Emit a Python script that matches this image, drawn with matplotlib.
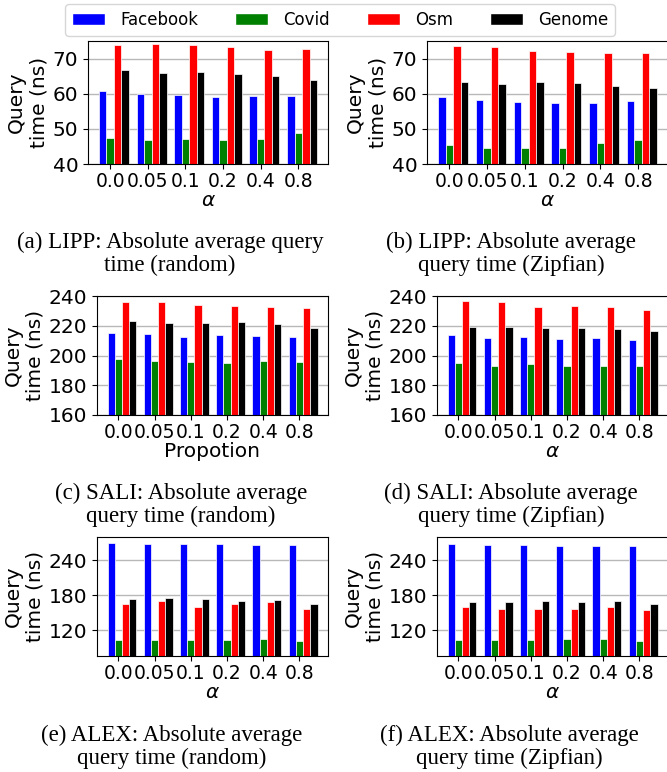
import matplotlib
matplotlib.use("Agg")
import matplotlib.pyplot as plt
import numpy as np
from matplotlib.patches import Patch

# ---------------- data ----------------
alphas = ["0.0", "0.05", "0.1", "0.2", "0.4", "0.8"]
series_names = ["Facebook", "Covid", "Osm", "Genome"]
series_colors = ["blue", "green", "red", "black"]

# (a) LIPP random
lipp_random_facebook = [60.8, 60.0, 59.7, 59.2, 59.4, 59.3]
lipp_random_covid = [47.5, 46.8, 47.0, 46.8, 47.1, 48.7]
lipp_random_osm = [73.9, 74.2, 73.9, 73.2, 72.5, 72.6]
lipp_random_genome = [66.7, 65.9, 66.2, 65.6, 64.9, 63.9]

# (b) LIPP zipfian
lipp_zipf_facebook = [59.2, 58.2, 57.6, 57.3, 57.5, 57.9]
lipp_zipf_covid = [45.3, 44.6, 44.5, 44.5, 45.9, 46.9]
lipp_zipf_osm = [73.5, 73.2, 72.1, 71.8, 71.5, 71.6]
lipp_zipf_genome = [63.4, 62.7, 63.4, 63.1, 62.3, 61.5]

# (c) SALI random
sali_random_facebook = [215.3, 214.5, 212.7, 213.8, 213.1, 212.2]
sali_random_covid = [197.6, 196.3, 195.6, 195.2, 196.3, 195.6]
sali_random_osm = [236.2, 236.2, 233.9, 233.3, 232.6, 231.7]
sali_random_genome = [223.2, 221.8, 222.1, 222.7, 221.4, 218.5]

# (d) SALI zipfian
sali_zipf_facebook = [213.8, 212.0, 212.2, 211.1, 211.8, 210.2]
sali_zipf_covid = [194.7, 192.9, 194.3, 193.2, 192.9, 192.9]
sali_zipf_osm = [236.6, 235.7, 232.4, 233.3, 232.4, 230.6]
sali_zipf_genome = [219.4, 218.9, 218.5, 218.5, 217.6, 216.2]

# (e) ALEX random
alex_random_facebook = [269.9, 268.7, 268.2, 268.2, 267.0, 267.0]
alex_random_covid = [103.4, 103.4, 103.4, 102.9, 105.7, 102.3]
alex_random_osm = [164.5, 169.7, 159.3, 165.6, 168.0, 157.0]
alex_random_genome = [173.1, 175.4, 174.3, 169.7, 172.5, 165.6]

# (f) ALEX zipfian
alex_zipf_facebook = [268.7, 266.4, 265.8, 265.2, 265.2, 264.6]
alex_zipf_covid = [103.4, 103.4, 103.4, 105.1, 105.1, 102.3]
alex_zipf_osm = [160.5, 157.0, 155.9, 157.0, 159.9, 155.3]
alex_zipf_genome = [168.5, 169.1, 170.2, 168.5, 170.2, 164.5]

lipp_ticks = [40, 50, 60, 70]
sali_ticks = [160, 180, 200, 220, 240]
alex_ticks = [120, 180, 240]

captions = [
    "(a) LIPP: Absolute average query\ntime (random)",
    "(b) LIPP: Absolute average\nquery time (Zipfian)",
    "(c) SALI: Absolute average\nquery time (random)",
    "(d) SALI: Absolute average\nquery time (Zipfian)",
    "(e) ALEX: Absolute average\nquery time (random)",
    "(f) ALEX: Absolute average\nquery time (Zipfian)",
]

# ---------------- figure ----------------
W, H = 667, 772
fig = plt.figure(figsize=(W / 100, H / 100), dpi=100)


def add_ax(x0, y0, x1, y1):
    return fig.add_axes([x0 / W, 1 - y1 / H, (x1 - x0) / W, (y1 - y0) / H])


panels = [
    (add_ax(88, 41, 328, 164), [lipp_random_facebook, lipp_random_covid, lipp_random_osm, lipp_random_genome], lipp_ticks, (40, 75), r"$\alpha$"),
    (add_ax(427, 41, 668, 164), [lipp_zipf_facebook, lipp_zipf_covid, lipp_zipf_osm, lipp_zipf_genome], lipp_ticks, (40, 75), r"$\alpha$"),
    (add_ax(97, 296, 328, 415), [sali_random_facebook, sali_random_covid, sali_random_osm, sali_random_genome], sali_ticks, (160, 240), "Propotion"),
    (add_ax(437, 296, 668, 415), [sali_zipf_facebook, sali_zipf_covid, sali_zipf_osm, sali_zipf_genome], sali_ticks, (160, 240), r"$\alpha$"),
    (add_ax(97, 537, 328, 656), [alex_random_facebook, alex_random_covid, alex_random_osm, alex_random_genome], alex_ticks, (76, 280), r"$\alpha$"),
    (add_ax(437, 537, 668, 656), [alex_zipf_facebook, alex_zipf_covid, alex_zipf_osm, alex_zipf_genome], alex_ticks, (76, 280), r"$\alpha$"),
]

x = np.arange(len(alphas))
offsets = [-0.2, 0.0, 0.2, 0.4]
width = 0.2

for ax, series, yticks, ylim, xlabel in panels:
    for vals, off, col in zip(series, offsets, series_colors):
        ax.bar(x + off, vals, width=width, color=col, edgecolor="white", linewidth=0.5)
    ax.set_ylim(*ylim)
    ax.set_yticks(yticks)
    ax.set_xticks(x)
    ax.set_xticklabels(alphas, fontsize=13.5)
    ax.tick_params(axis="y", labelsize=14.5)
    ax.tick_params(axis="x", pad=2.5)
    ax.yaxis.grid(True, color="0.72", linewidth=1.0)
    ax.set_axisbelow(True)
    ax.set_ylabel("Query\ntime (ns)", fontsize=14.5, labelpad=3)
    ax.set_xlabel(xlabel, fontsize=14.5, labelpad=0)

# captions
cap_pos = [(170, 254), (511, 254), (181, 505), (511, 505), (172, 747), (509, 747)]
for (cx, cy), txt in zip(cap_pos, captions):
    fig.text(cx / W, 1 - cy / H, txt, ha="center", va="center",
             fontsize=16.5, family="Liberation Serif", linespacing=1.1)

handles = [Patch(facecolor=c, edgecolor="white") for c in series_colors]
fig.legend(handles, series_names, loc="center", bbox_to_anchor=(340 / W, 1 - 20 / H),
           ncol=4, fontsize=12, handlelength=2.0, handletextpad=0.9,
           columnspacing=2.2, frameon=True, borderpad=0.4)

fig.savefig("out.png", dpi=100)
